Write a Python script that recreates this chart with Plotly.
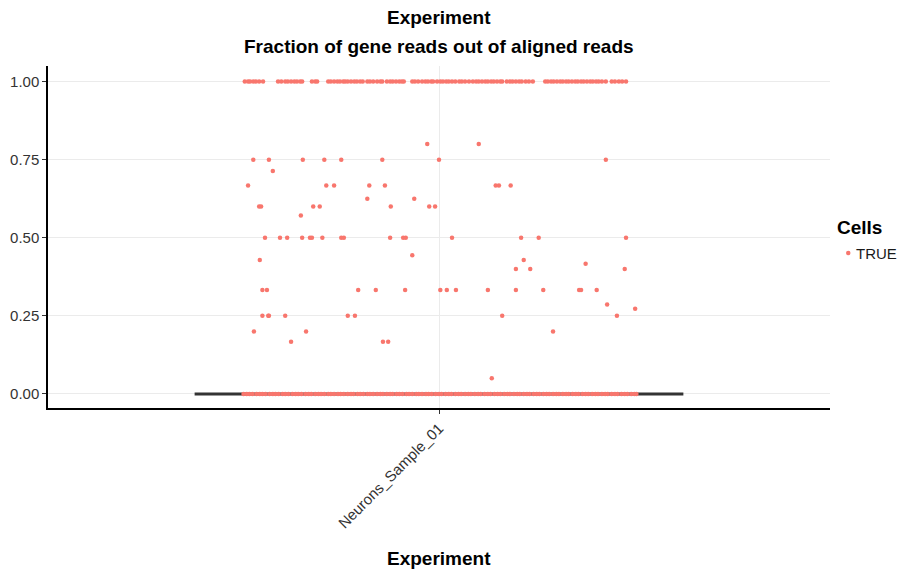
import plotly.graph_objects as go

# category and jittered points (x = offset from the category centre)
category = "Neurons_Sample_01"
group_name = "TRUE"
legend_title = "Cells"

y_one_offsets = [
    -0.298, -0.293, -0.290, -0.285, -0.281, -0.276, -0.270,
    -0.247, -0.242, -0.236, -0.232, -0.227, -0.222, -0.218, -0.213, -0.210,
    -0.195, -0.190, -0.187,
    -0.170, -0.166, -0.161, -0.156, -0.152, -0.147, -0.144,
    -0.140, -0.135, -0.130, -0.126, -0.121, -0.117, -0.110,
    -0.106, -0.101, -0.095, -0.090, -0.087,
    -0.080, -0.075, -0.071, -0.066, -0.061, -0.057, -0.054,
    -0.041, -0.037, -0.032,
    -0.026, -0.021, -0.017, -0.012, -0.009,
    -0.003, 0.002, 0.006, 0.011, 0.015, 0.020, 0.025, 0.031,
    0.035, 0.040, 0.046, 0.052, 0.057,
    0.061, 0.066, 0.071, 0.075, 0.080, 0.084, 0.089, 0.094, 0.097,
    0.104, 0.109, 0.113, 0.118, 0.123, 0.127, 0.133, 0.138,
    0.144,
    0.163, 0.167, 0.172, 0.176, 0.181, 0.186, 0.190, 0.195, 0.199, 0.204,
    0.209, 0.213, 0.218, 0.222, 0.227, 0.232, 0.236, 0.241, 0.245, 0.250,
    0.256,
    0.265, 0.270, 0.276,
    0.281, 0.287,
]

y_zero_offsets = [
    -0.300, -0.295, -0.291, -0.286, -0.280, -0.275, -0.271, -0.266, -0.260, -0.255,
    -0.251, -0.246, -0.240, -0.236, -0.231, -0.225, -0.220, -0.216, -0.211, -0.205,
    -0.200, -0.196, -0.190, -0.185, -0.181, -0.176, -0.170, -0.166, -0.161, -0.155,
    -0.151, -0.146, -0.140, -0.135, -0.131, -0.125, -0.121, -0.116, -0.110, -0.106,
    -0.101, -0.095, -0.090, -0.086, -0.080, -0.075, -0.071, -0.065, -0.061, -0.056,
    -0.050, -0.046, -0.041, -0.035, -0.031, -0.026, -0.020, -0.016, -0.011, -0.005,
    0.000, 0.004, 0.010, 0.015, 0.019, 0.025, 0.030, 0.034, 0.040, 0.045,
    0.049, 0.055, 0.060, 0.064, 0.070, 0.075, 0.079, 0.085, 0.090, 0.094,
    0.100, 0.105, 0.109, 0.115, 0.120, 0.124, 0.130, 0.135, 0.139, 0.145,
    0.150, 0.154, 0.160, 0.165, 0.169, 0.175, 0.180, 0.184, 0.190, 0.195,
    0.199, 0.205, 0.210, 0.214, 0.220, 0.225, 0.229, 0.235, 0.240, 0.244,
    0.250, 0.255, 0.259, 0.265, 0.270, 0.274, 0.280, 0.285, 0.289, 0.295,
    0.300, 0.303,
]

# the scattered cells between 0 and 1: (fraction, offset)
mid_points = [
    (0.800, -0.018), (0.800, 0.061),
    (0.750, -0.285), (0.750, -0.261), (0.750, -0.209), (0.750, -0.176),
    (0.750, -0.150), (0.750, -0.087), (0.750, 0.000), (0.750, 0.256),
    (0.714, -0.255),
    (0.667, -0.293), (0.667, -0.173), (0.667, -0.161), (0.667, -0.107),
    (0.667, -0.083), (0.667, 0.087), (0.667, 0.092), (0.667, 0.110),
    (0.625, -0.110), (0.625, -0.038),
    (0.600, -0.276), (0.600, -0.273), (0.600, -0.193), (0.600, -0.183),
    (0.600, -0.074), (0.600, -0.015), (0.600, -0.006),
    (0.571, -0.212),
    (0.500, -0.267), (0.500, -0.244), (0.500, -0.233), (0.500, -0.210),
    (0.500, -0.198), (0.500, -0.195), (0.500, -0.179), (0.500, -0.150),
    (0.500, -0.146), (0.500, -0.075), (0.500, -0.055), (0.500, -0.051),
    (0.500, 0.020), (0.500, 0.126), (0.500, 0.153), (0.500, 0.287),
    (0.444, -0.041),
    (0.429, -0.275), (0.429, 0.130),
    (0.417, 0.225),
    (0.400, 0.118), (0.400, 0.140), (0.400, 0.285),
    (0.333, -0.271), (0.333, -0.264), (0.333, -0.124), (0.333, -0.097),
    (0.333, -0.052), (0.333, 0.002), (0.333, 0.012), (0.333, 0.026),
    (0.333, 0.075), (0.333, 0.118), (0.333, 0.160), (0.333, 0.215),
    (0.333, 0.218), (0.333, 0.242),
    (0.286, 0.258),
    (0.273, 0.301),
    (0.250, -0.271), (0.250, -0.262), (0.250, -0.261), (0.250, -0.236),
    (0.250, -0.140), (0.250, -0.129), (0.250, 0.097), (0.250, 0.273),
    (0.200, -0.284), (0.200, -0.204), (0.200, 0.175),
    (0.167, -0.227), (0.167, -0.086), (0.167, -0.078),
    (0.050, 0.081),
]

# flattened violin (all mass at 0): its horizontal extent
violin_x = [0.625, 1.375]
violin_y = [0, 0]

y_ticks = [0, 0.25, 0.5, 0.75, 1.0]

point_color = '#F8766D'

pts_x = [1 + o for o in y_zero_offsets] + [1 + o for o in y_one_offsets] + [1 + o for f, o in mid_points]
pts_y = [0] * len(y_zero_offsets) + [1] * len(y_one_offsets) + [f for f, o in mid_points]

fig = go.Figure()

fig.add_trace(go.Scatter(
    x=violin_x, y=violin_y,
    mode='lines',
    line=dict(color='#333333', width=3),
    showlegend=False, hoverinfo='skip'
))

fig.add_trace(go.Scatter(
    x=pts_x, y=pts_y,
    mode='markers',
    name=group_name,
    showlegend=False,
    marker=dict(color=point_color, size=4.5, line=dict(width=0)),
))

font = "Liberation Sans, Arial, sans-serif"

# the page body adds an 8px offset, margins are set with that in mind
fig.update_layout(
    width=915, height=571,
    autosize=False,
    margin=dict(l=40, r=93, t=58, b=171),
    plot_bgcolor='white', paper_bgcolor='white',
    font=dict(family=font, size=15, color='#333333'),
    xaxis=dict(
        range=[0.4, 1.6],
        tickvals=[1], ticktext=[category],
        tickangle=-45,
        automargin=False,
        showgrid=True, gridcolor='#EBEBEB', gridwidth=1,
        zeroline=False,
        showline=True, linecolor='black', linewidth=1.5,
        ticks='outside', ticklen=4, tickcolor='#333333',
        tickfont=dict(size=15, color='#333333'),
    ),
    yaxis=dict(
        range=[-0.045, 1.05],
        tickvals=y_ticks, tickformat='.2f',
        automargin=False,
        showgrid=True, gridcolor='#EBEBEB', gridwidth=1,
        zeroline=False,
        showline=True, linecolor='black', linewidth=1.5,
        ticks='outside', ticklen=4, tickcolor='#333333',
        tickfont=dict(size=15, color='#333333'),
    ),
    showlegend=False,
    annotations=[
        dict(text='<b>Experiment</b>', x=0.5, xref='paper', y=1, yref='paper',
             yanchor='middle', yshift=49, showarrow=False,
             font=dict(size=19, color='black')),
        dict(text='<b>Fraction of gene reads out of aligned reads</b>', x=0.5, xref='paper',
             y=1, yref='paper', yanchor='middle', yshift=20, showarrow=False,
             font=dict(size=19, color='black')),
        dict(text='<b>Experiment</b>', x=0.5, xref='paper', y=0, yref='paper',
             yanchor='middle', yshift=-150, showarrow=False,
             font=dict(size=19, color='black')),
        # legend drawn by hand so it sits tight against the panel
        dict(text='<b>' + legend_title + '</b>', x=1, xref='paper', xanchor='left', xshift=5,
             y=0.529, yref='paper', yanchor='middle', showarrow=False,
             font=dict(size=19, color='black')),
        dict(text=group_name, x=1, xref='paper', xanchor='left', xshift=24,
             y=0.453, yref='paper', yanchor='middle', showarrow=False,
             font=dict(size=15, color='#1a1a1a')),
    ],
    shapes=[
        dict(type='circle', xref='paper', yref='paper',
             xsizemode='pixel', ysizemode='pixel',
             xanchor=1, yanchor=0.453,
             x0=16, x1=20.5, y0=-2.25, y1=2.25,
             fillcolor=point_color, line=dict(width=0)),
    ],
)

fig.write_html("out.html")
